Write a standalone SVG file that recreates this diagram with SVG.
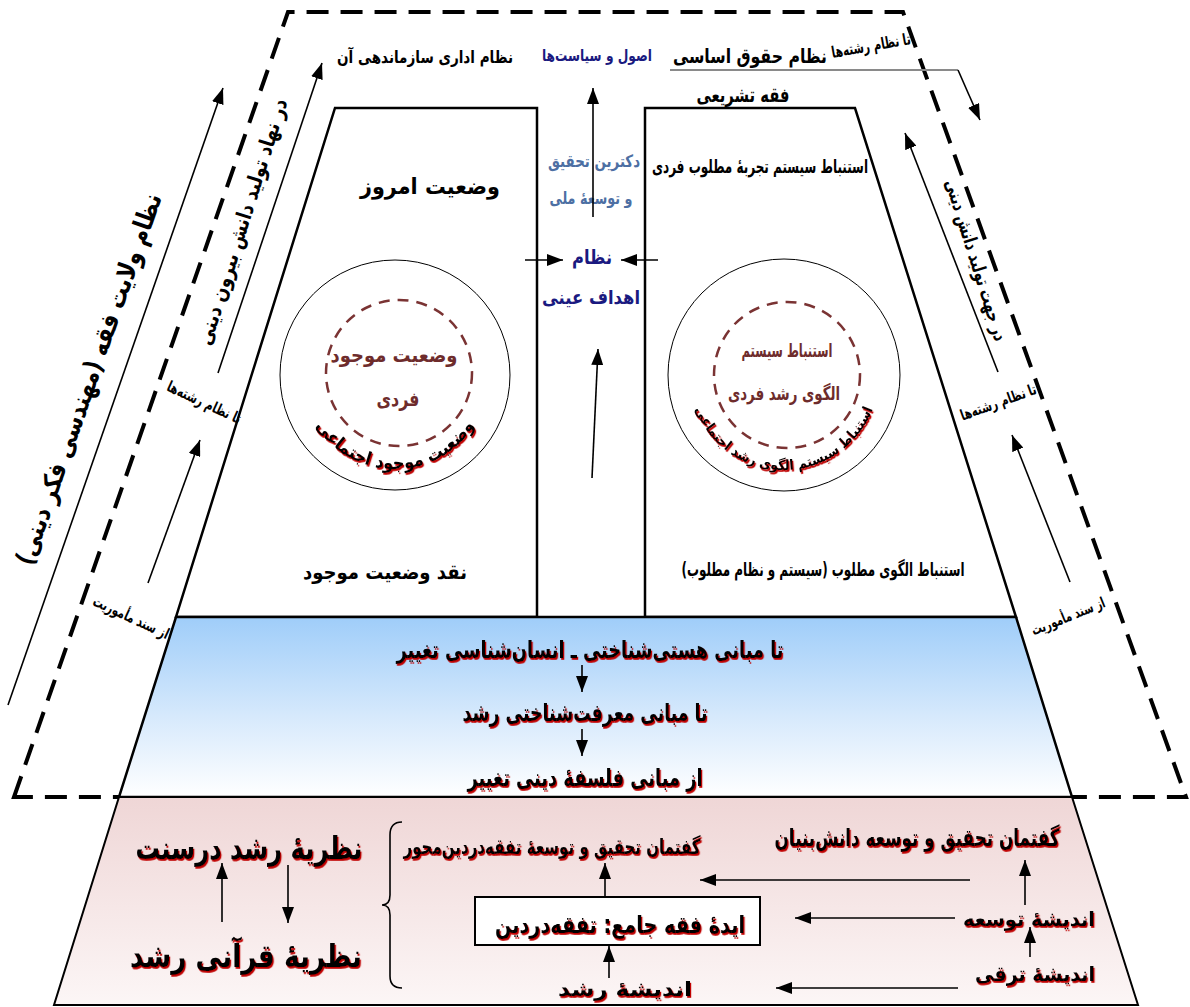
<svg xmlns="http://www.w3.org/2000/svg" width="1190" height="1007" viewBox="0 0 1190 1007">
<defs>
  <linearGradient id="gBlue" x1="0" y1="0" x2="0" y2="1">
    <stop offset="0" stop-color="#9fcdf9"/>
    <stop offset="0.55" stop-color="#d6e9fc"/>
    <stop offset="1" stop-color="#ffffff"/>
  </linearGradient>
  <linearGradient id="gPink" x1="0" y1="0" x2="0" y2="1">
    <stop offset="0" stop-color="#efd6d6"/>
    <stop offset="1" stop-color="#fcf6f6"/>
  </linearGradient>
  <filter id="sh" x="-5%" y="-30%" width="110%" height="160%">
    <feDropShadow dx="1.2" dy="1.8" stdDeviation="0" flood-color="#c00000" flood-opacity="1"/>
  </filter>
  <marker id="ah" viewBox="0 0 16 12" refX="16" refY="6" markerWidth="16" markerHeight="12" markerUnits="userSpaceOnUse" orient="auto">
    <path d="M0,0 L16,6 L0,12 z" fill="#000"/>
  </marker>
  <path id="arcL" d="M301,375 A94,94 0 0 0 489,375"/>
  <path id="arcR" d="M689,375 A95,95 0 0 0 879,375"/>
</defs>
<style>
  .t{font-family:"DejaVu Sans","Noto Sans",sans-serif;font-weight:bold;font-stretch:condensed;text-anchor:middle;direction:rtl;fill:#000}
  .ln{stroke:#000;stroke-width:1.6;fill:none}
  .ar{stroke:#000;stroke-width:1.6;fill:none;marker-end:url(#ah)}
  .dash{stroke:#000;stroke-width:4;fill:none;stroke-dasharray:22 12}
  .box{stroke:#000;stroke-width:2.5;fill:#fff}
  .circ{stroke:#000;stroke-width:1;fill:none}
  .dcirc{stroke:#7a3333;stroke-width:2.5;fill:none;stroke-dasharray:11 8}
  .brown{fill:#6e2c2c}
  .navy{fill:#1a1a80}
  .steel{fill:#4d6fa3}
  .shd{filter:url(#sh)}
</style>
<rect x="0" y="0" width="1190" height="1007" fill="#fff"/>

<g id="outline">
  <path class="dash" d="M14,797 L288,12 L903,12 L1186,797 Z"/>
</g>

<g id="left-box">
  <polygon class="box" points="335,108 537,108 537,617 176,617"/>
  <text class="t" x="430" y="194" font-size="22" textLength="140" lengthAdjust="spacingAndGlyphs">وضعیت امروز</text>
  <circle class="circ" cx="395" cy="375" r="115"/>
  <circle class="dcirc" cx="399" cy="373" r="73"/>
  <text class="t brown" x="394" y="362" font-size="20" textLength="127" lengthAdjust="spacingAndGlyphs">وضعیت موجود</text>
  <text class="t brown" x="398" y="406" font-size="20" textLength="43" lengthAdjust="spacingAndGlyphs">فردی</text>
  <text class="t shd" font-size="18"><textPath href="#arcL" startOffset="50%">وضعیت موجود اجتماعی</textPath></text>
  <text class="t" x="385" y="579" font-size="20" textLength="164" lengthAdjust="spacingAndGlyphs">نقد وضعیت موجود</text>
</g>

<g id="right-box">
  <polygon class="box" points="645,108 855,108 1016,617 645,617"/>
  <text class="t" x="760" y="173" font-size="19" textLength="216" lengthAdjust="spacingAndGlyphs">استنباط سیستم تجربهٔ مطلوب فردی</text>
  <circle class="circ" cx="784" cy="375" r="116"/>
  <circle class="dcirc" cx="787" cy="375" r="73"/>
  <text class="t brown" x="787" y="357" font-size="19" textLength="91" lengthAdjust="spacingAndGlyphs">استنباط سیستم</text>
  <text class="t brown" x="784" y="400" font-size="19" textLength="112" lengthAdjust="spacingAndGlyphs">الگوی رشد فردی</text>
  <text class="t shd" font-size="14"><textPath href="#arcR" startOffset="50%">استنباط سیستم الگوی رشد اجتماعی</textPath></text>
  <text class="t" x="823" y="576" font-size="19" textLength="283" lengthAdjust="spacingAndGlyphs">استنباط الگوی مطلوب (سیستم و نظام مطلوب)</text>
</g>

<g id="foundations">
  <polygon points="176,617 1016,617 1072,797 119,797" fill="url(#gBlue)" stroke="#000" stroke-width="2.5"/>
  <text class="t shd" x="590" y="658" font-size="24" textLength="387" lengthAdjust="spacingAndGlyphs">تا مبانی هستی‌شناختی ـ انسان‌شناسی تغییر</text>
  <text class="t shd" x="585" y="721" font-size="24" textLength="245" lengthAdjust="spacingAndGlyphs">تا مبانی معرفت‌شناختی رشد</text>
  <text class="t shd" x="585" y="786" font-size="24" textLength="235" lengthAdjust="spacingAndGlyphs">از مبانی فلسفهٔ دینی تغییر</text>
</g>

<g id="theories">
  <polygon points="119,797 1072,797 1138,1005 54,1005" fill="url(#gPink)" stroke="#000" stroke-width="2"/>
  <text class="t shd" x="249" y="859" font-size="32" textLength="227" lengthAdjust="spacingAndGlyphs">نظریهٔ رشد درسنت</text>
  <text class="t shd" x="246" y="967" font-size="32" textLength="232" lengthAdjust="spacingAndGlyphs">نظریهٔ قرآنی رشد</text>
  <path class="ln" d="M402,822 Q390,822 390,835 L390,895 Q390,905 382,905 Q390,905 390,915 L390,976 Q390,988 402,988"/>
  <text class="t shd" x="552" y="854" font-size="21" textLength="297" lengthAdjust="spacingAndGlyphs">گفتمان تحقیق و توسعهٔ تفقه‌دردین‌محور</text>
  <text class="t shd" x="917" y="846" font-size="24" textLength="285" lengthAdjust="spacingAndGlyphs">گفتمان تحقیق و توسعه دانش‌بنیان</text>
  <rect x="475" y="897" width="285" height="48" fill="#fff" stroke="#000" stroke-width="2"/>
  <text class="t shd" x="620" y="933" font-size="24" textLength="250" lengthAdjust="spacingAndGlyphs">ایدهٔ فقه جامع: تفقه‌دردین</text>
  <text class="t shd" x="1029" y="926" font-size="20" textLength="132" lengthAdjust="spacingAndGlyphs">اندیشهٔ توسعه</text>
  <text class="t shd" x="1035" y="981" font-size="20" textLength="120" lengthAdjust="spacingAndGlyphs">اندیشهٔ ترقی</text>
  <text class="t shd" x="625" y="996" font-size="20" textLength="134" lengthAdjust="spacingAndGlyphs">اندیشهٔ رشد</text>
</g>

<g id="top-labels">
  <text class="t" x="425" y="63" font-size="17" textLength="176" lengthAdjust="spacingAndGlyphs">نظام اداری سازماندهی آن</text>
  <text class="t navy" x="597" y="61" font-size="16" textLength="110" lengthAdjust="spacingAndGlyphs">اصول و سیاست‌ها</text>
  <text class="t" x="750" y="63" font-size="20" textLength="154" lengthAdjust="spacingAndGlyphs">نظام حقوق اساسی</text>
  <text class="t" x="872" y="51" font-size="16" textLength="80" lengthAdjust="spacingAndGlyphs" transform="rotate(-10 872 51)">تا نظام رشته‌ها</text>
  <text class="t" x="743" y="102" font-size="20" textLength="93" lengthAdjust="spacingAndGlyphs">فقه تشریعی</text>
</g>

<g id="center-labels">
  <text class="t steel" x="594" y="167" font-size="17" textLength="92" lengthAdjust="spacingAndGlyphs">دکترین تحقیق</text>
  <text class="t steel" x="591" y="204" font-size="17" textLength="83" lengthAdjust="spacingAndGlyphs">و توسعهٔ ملی</text>
  <text class="t navy" x="592" y="264" font-size="20" textLength="40" lengthAdjust="spacingAndGlyphs">نظام</text>
  <text class="t navy" x="591" y="304" font-size="19" textLength="98" lengthAdjust="spacingAndGlyphs">اهداف عینی</text>
</g>

<g id="side-labels">
  <text class="t" x="97" y="382" font-size="26" textLength="392" lengthAdjust="spacingAndGlyphs" transform="rotate(-70.6 97 382)">نظام ولایت فقه (مهندسی فکر دینی)</text>
  <text class="t" x="249" y="224" font-size="21" textLength="257" lengthAdjust="spacingAndGlyphs" transform="rotate(-72.5 249 224)">در نهاد تولید دانش بیرون دینی</text>
  <text class="t" x="202" y="407" font-size="15" textLength="80" lengthAdjust="spacingAndGlyphs" transform="rotate(25 202 407)">تا نظام رشته‌ها</text>
  <text class="t" x="129" y="622" font-size="15" textLength="82" lengthAdjust="spacingAndGlyphs" transform="rotate(25 129 622)">از سند مأموریت</text>
  <text class="t" x="970" y="262" font-size="19" textLength="168" lengthAdjust="spacingAndGlyphs" transform="rotate(72.6 970 262)">در جهت تولید دانش دینی</text>
  <text class="t" x="1000" y="407" font-size="15" textLength="80" lengthAdjust="spacingAndGlyphs" transform="rotate(-20 1000 407)">تا نظام رشته‌ها</text>
  <text class="t" x="1070" y="621" font-size="15" textLength="78" lengthAdjust="spacingAndGlyphs" transform="rotate(-22 1070 621)">از سند مأموریت</text>
</g>

<g id="connectors">
  <line class="ar" x1="8" y1="705" x2="223" y2="88"/>
  <line class="ar" x1="218" y1="373" x2="322" y2="63"/>
  <line class="ar" x1="148" y1="583" x2="200" y2="440"/>
  <line x1="670" y1="70" x2="958" y2="70" stroke="#8a8a8a" stroke-width="2"/>
  <line class="ar" x1="958" y1="70" x2="980" y2="120"/>
  <line class="ar" x1="998" y1="372" x2="905" y2="133"/>
  <line class="ar" x1="1070" y1="582" x2="1012" y2="435"/>
  <line class="ar" x1="593" y1="217" x2="593" y2="88"/>
  <line class="ar" x1="525" y1="260" x2="563" y2="260"/>
  <line class="ar" x1="658" y1="260" x2="621" y2="260"/>
  <line class="ar" x1="592" y1="478" x2="598" y2="349"/>
  <line class="ar" x1="582" y1="665" x2="582" y2="692"/>
  <line class="ar" x1="582" y1="729" x2="582" y2="756"/>
  <line class="ar" x1="222" y1="922" x2="222" y2="863"/>
  <line class="ar" x1="288" y1="865" x2="288" y2="923"/>
  <line class="ar" x1="605" y1="897" x2="605" y2="863"/>
  <line class="ar" x1="970" y1="880" x2="700" y2="880"/>
  <line class="ar" x1="1025" y1="905" x2="1025" y2="860"/>
  <line class="ar" x1="955" y1="918" x2="795" y2="918"/>
  <line class="ar" x1="1030" y1="957" x2="1030" y2="927"/>
  <line class="ar" x1="958" y1="988" x2="776" y2="988"/>
  <line class="ar" x1="609" y1="978" x2="609" y2="946"/>
</g>
</svg>
